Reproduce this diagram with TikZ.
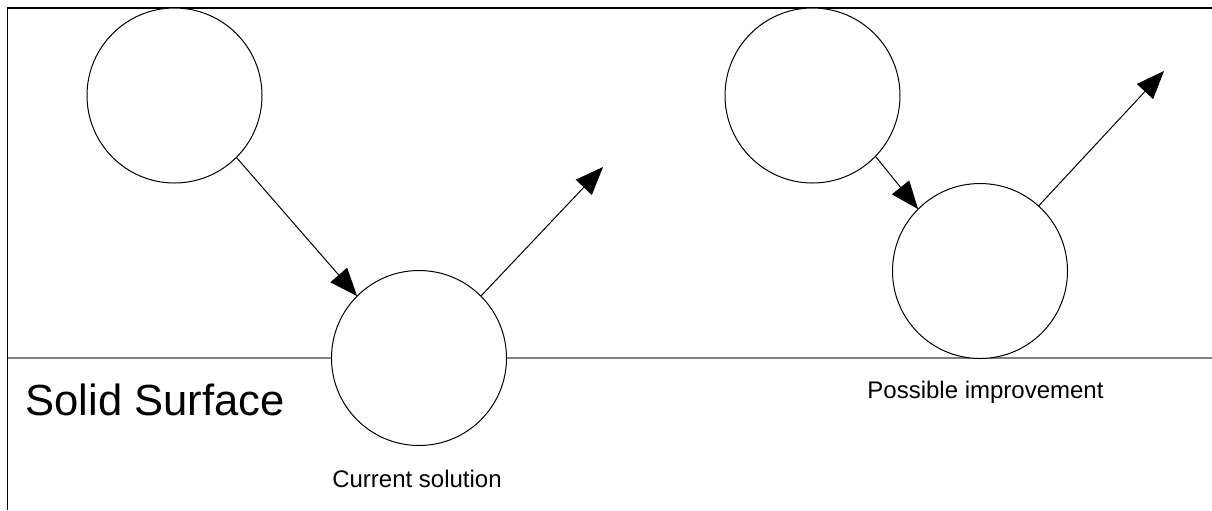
\documentclass[tikz,border=0pt]{standalone}
\usepackage{fontspec}
\setmainfont{Liberation Sans}
\usetikzlibrary{arrows.meta}
\begin{document}
\begin{tikzpicture}[x=0.5pt,y=-0.5pt,
  ball/.style={circle,draw=black,fill=white,line width=0.5pt,inner sep=0pt,outer sep=0pt,minimum size=87.5pt},
  motion/.style={line width=0.5pt,-{Triangle[length=14pt,width=11pt]}},
  frame/.style={line width=0.75pt,black},
  ground/.style={line width=0.9pt,draw=gray},
  label/.style={font=\fontsize{12pt}{14pt}\selectfont,anchor=base,inner sep=0pt}]
\useasboundingbox (0,0) rectangle (1212,510);
\coordinate (tl) at (7.5,8);
\coordinate (tr) at (1212,8);
\coordinate (bl) at (7.5,510);
\coordinate (gl) at (7.5,358);
\coordinate (gr) at (1212,358);
\draw[frame] (bl) -- (tl) -- (tr);
\draw[ground] (gl) -- (gr);
\node[ball] (c1) at (174.5,95.5) {};
\node[ball] (c2) at (419,358) {};
\node[ball] (c3) at (812.5,95.5) {};
\node[ball] (c4) at (980,271) {};
\coordinate (e2) at (603,167);
\coordinate (e4) at (1164,71);
\draw[motion] (c1.-45.5) -- (c2.135);
\draw[motion] (c2.45) -- (e2);
\draw[motion] (c3.-44) -- (c4.135);
\draw[motion] (c4.48) -- (e4);
\node[anchor=base,inner sep=0pt,font=\fontsize{21.8pt}{24pt}\selectfont] (solid) at (155,415) {Solid Surface};
\node[label] (cur) at (417,487) {Current solution};
\node[label] (pos) at (985.5,398) {Possible improvement};
\end{tikzpicture}
\end{document}
